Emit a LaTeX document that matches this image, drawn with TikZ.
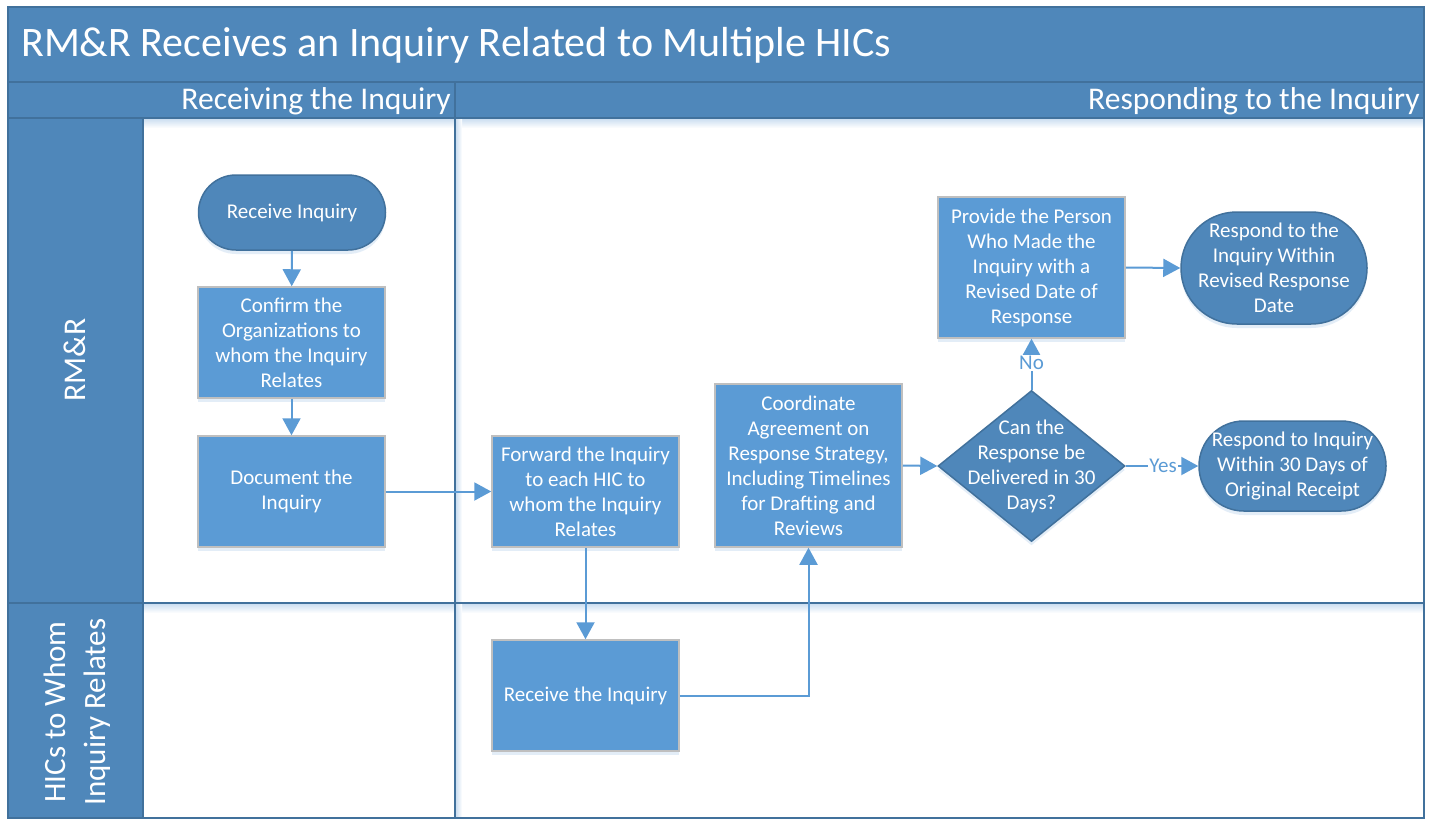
\documentclass[tikz,border=0pt]{standalone}
\usepackage{fontspec}
\setmainfont{Carlito}
\usetikzlibrary{arrows.meta,shapes.geometric,shadows}

\definecolor{headfill}{RGB}{79,135,186}
\definecolor{headline}{RGB}{65,113,156}
\definecolor{procfill}{RGB}{91,155,213}
\definecolor{procline}{RGB}{191,191,191}
\definecolor{flowblue}{RGB}{91,155,213}
\definecolor{shadowblue}{RGB}{205,223,241}

\tikzset{
  every node/.style={inner sep=0pt},
  nodefont/.style={font=\fontsize{21}{25}\selectfont},
  soft/.style={drop shadow={shadow xshift=0pt,shadow yshift=-4pt,opacity=.55,fill=shadowblue}},
  procbox/.style={rectangle, fill=procfill, draw=procline, line width=1.5pt,
    minimum width=187pt, minimum height=111pt, align=center, text=white, nodefont, soft},
  termbox/.style={rectangle, fill=headfill, draw=headline, line width=1.5pt,
    minimum width=187pt, align=center, text=white, nodefont, soft},
  decbox/.style={diamond, fill=headfill, draw=headline, line width=1.5pt,
    minimum width=187pt, minimum height=151pt, soft},
  dectext/.style={align=center, text=white, nodefont},
  flow/.style={draw=flowblue, line width=2pt, -{Triangle[length=17pt,width=18pt]}},
  flowlabel/.style={fill=white, text=flowblue, nodefont, inner sep=1pt},
  poolline/.style={draw=headline, line width=2pt},
  hdrtext/.style={text=white, font=\fontsize{31.6}{38}\selectfont},
}

\begin{document}
\begin{tikzpicture}[x=1pt,y=-1pt]
\useasboundingbox (0,0) rectangle (1439,819);

% pool background
\fill[white] (8,7) rectangle (1424,818);
\fill[headfill] (8,7) rectangle (1424,118);
\fill[headfill] (8,118) rectangle (143,818);

% soft shading below the header and lane divider
\shade[top color=shadowblue, bottom color=white] (143,119) rectangle (1423,128);
\shade[top color=shadowblue, bottom color=white] (143,604) rectangle (1423,613);
\shade[left color=shadowblue, right color=white] (456,119) rectangle (462,817);

% pool frame and dividers
\draw[poolline] (8,7) rectangle (1424,818);
\draw[poolline] (8,82) -- (1424,82);
\draw[poolline] (8,118) -- (1424,118);
\draw[poolline] (143,118) -- (143,818);
\draw[poolline] (455,82) -- (455,818);
\draw[poolline] (8,603) -- (1424,603);

% titles
\node[hdrtext, anchor=west, font=\fontsize{42}{48}\selectfont] (title) at (21,45)
  {RM\&R Receives an Inquiry Related to Multiple HICs};
\node[hdrtext, anchor=east] (phaseA) at (451,101) {Receiving the Inquiry};
\node[hdrtext, anchor=east] (phaseB) at (1420,101) {Responding to the Inquiry};
\node[hdrtext, rotate=90] (laneA) at (75,360) {RM\&R};
\node[hdrtext, rotate=90, align=center, font=\fontsize{31}{40}\selectfont] (laneB) at (77,712)
  {HICs to Whom\\Inquiry Relates};

% flow shapes
\node[termbox, minimum height=75pt, rounded corners=37.5pt] (recv) at (292,212.5)
  {Receive Inquiry};
\node[procbox] (confirm) at (291.5,342.5) {Confirm the\\Organizations to\\whom the Inquiry\\Relates};
\node[procbox] (doc) at (291.5,491.5) {Document the\\Inquiry};
\node[procbox] (fwd) at (585.5,491.5) {Forward the Inquiry\\to each HIC to\\whom the Inquiry\\Relates};
\node[procbox] (rcvhic) at (585.5,695.5) {Receive the Inquiry};
\node[procbox, minimum height=163pt] (coord) at (808.5,465.5)
  {Coordinate\\Agreement on\\Response Strategy,\\Including Timelines\\for Drafting and\\Reviews};
\node[decbox] (dec) at (1031.5,466) {};
\node[dectext] (dectxt) at (dec.center) {Can the\\Response be\\Delivered in 30\\Days?};
\node[procbox, minimum height=141pt] (provide) at (1031.5,267.5)
  {Provide the Person\\Who Made the\\Inquiry with a\\Revised Date of\\Response};
\node[termbox, minimum width=186pt, minimum height=112pt, rounded corners=55.9pt] (revised) at (1274,268)
  {Respond to the\\Inquiry Within\\Revised Response\\Date};
\node[termbox, minimum height=90pt, rounded corners=44.9pt] (within) at (1292.5,466)
  {Respond to Inquiry\\Within 30 Days of\\Original Receipt};

% connectors
\draw[flow] (recv) -- (confirm);
\draw[flow] (confirm) -- (doc);
\draw[flow] (doc) -- (fwd);
\draw[flow] (fwd) -- (rcvhic);
\draw[flow] (rcvhic.east) -| (coord.south);
\draw[flow] (coord.east) -- (dec.west);
\draw[flow] (dec.north) -- node[flowlabel, yshift=1.5pt] (nolbl) {No} (provide.south);
\draw[flow] (dec.east) -- node[flowlabel, xshift=1pt] (yeslbl) {Yes} (within.west);
\draw[flow] (provide.east) -- (revised.west);
\end{tikzpicture}
\end{document}
